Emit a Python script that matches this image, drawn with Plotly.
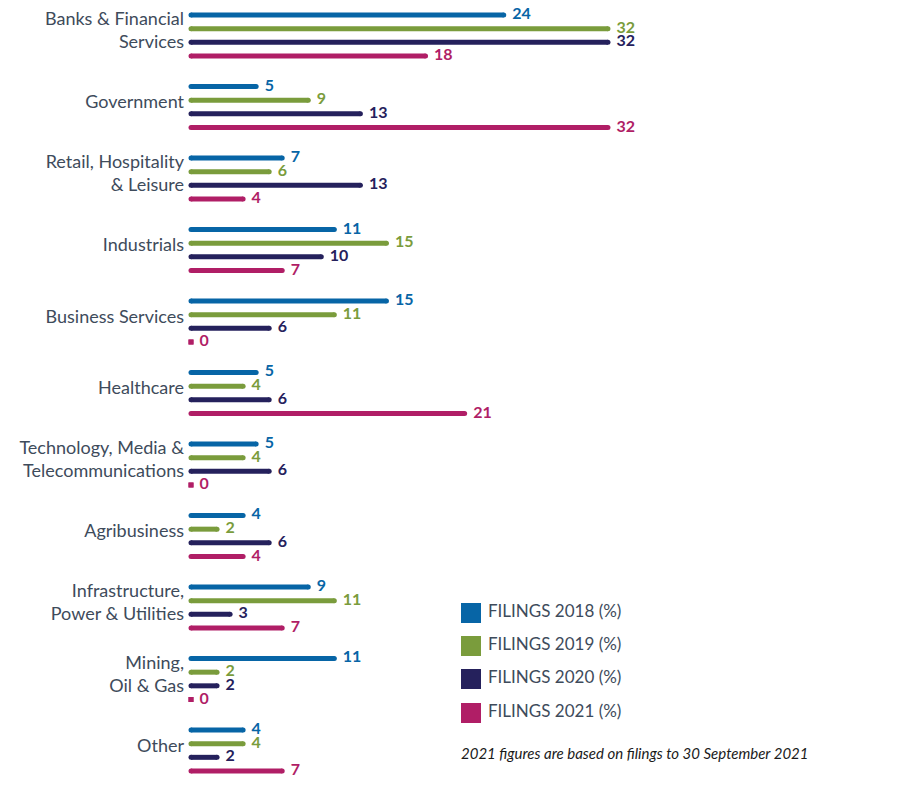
import plotly.graph_objects as go

categories = ["Banks & Financial<br>Services", "Government", "Retail, Hospitality<br>& Leisure",
              "Industrials", "Business Services", "Healthcare",
              "Technology, Media &<br>Telecommunications", "Agribusiness",
              "Infrastructure,<br>Power & Utilities", "Mining,<br>Oil & Gas", "Other"]
series_names = ["FILINGS 2018 (%)", "FILINGS 2019 (%)", "FILINGS 2020 (%)", "FILINGS 2021 (%)"]
filings_2018 = [24, 5, 7, 11, 15, 5, 5, 4, 9, 11, 4]
filings_2019 = [32, 9, 6, 15, 11, 4, 4, 2, 11, 2, 4]
filings_2020 = [32, 13, 13, 10, 6, 6, 6, 6, 3, 2, 2]
filings_2021 = [18, 32, 4, 7, 0, 21, 0, 4, 7, 0, 7]
footnote = "2021 figures are based on filings to 30 September 2021"

colors = ["#0765a6", "#7a9c3c", "#25215c", "#b01e66"]
GROUP = 5.23
FONT = "Lato"
TEXTC = "#3e4b5b"

fig = go.Figure()
all_series = [filings_2018, filings_2019, filings_2020, filings_2021]
for j, (vals, name, col) in enumerate(zip(all_series, series_names, colors)):
    xs, ys, syms = [], [], []
    for i, v in enumerate(vals):
        y = i * GROUP + j
        xs += [0, v, None]
        ys += [y, y, None]
        s = "square" if v == 0 else "circle"
        syms += [s, s, s]
    fig.add_trace(go.Scatter(x=xs, y=ys, mode="lines+markers", name=name,
                             line=dict(color=col, width=5),
                             marker=dict(color=col, size=5, symbol=syms),
                             showlegend=False, hoverinfo="skip", cliponaxis=False))
    fig.add_trace(go.Scatter(x=vals, y=[i * GROUP + j for i in range(len(vals))],
                             mode="markers+text", text=[str(v) for v in vals],
                             marker=dict(size=12, opacity=0, color=col),
                             textposition="middle right",
                             textfont=dict(family=FONT, size=16, color=col, weight="bold"),
                             showlegend=False, hoverinfo="skip", cliponaxis=False))

# manual legend on overlay axes (pixel-like coordinates)
leg_y = [613, 646, 679, 713]
fig.add_trace(go.Scatter(x=[470] * 4, y=leg_y, mode="markers", xaxis="x2", yaxis="y2",
                         marker=dict(symbol="square", size=20, color=colors),
                         showlegend=False, hoverinfo="skip", cliponaxis=False))
fig.add_trace(go.Scatter(x=[487] * 4, y=leg_y, mode="text", xaxis="x2", yaxis="y2",
                         text=series_names, textposition="middle right",
                         textfont=dict(family=FONT, size=17, color=TEXTC),
                         showlegend=False, hoverinfo="skip", cliponaxis=False))

fig.add_annotation(x=458, y=753, xref="x2", yref="y2", text="<i>" + footnote + "</i>",
                   showarrow=False, xanchor="left", yanchor="middle",
                   font=dict(family=FONT, size=15, color="#1a1a1a"))

ppx = 13.03
x_max = 700 / ppx
y_top = -5 / 13.67
y_bot = (10 * GROUP + 3) + 20 / 13.67

fig.update_layout(
    width=901, height=801,
    margin=dict(l=183, r=18, t=2, b=18, autoexpand=False),
    paper_bgcolor="white", plot_bgcolor="white",
    xaxis=dict(range=[0, x_max], visible=False, fixedrange=True, automargin=False),
    yaxis=dict(range=[y_bot, y_top], showgrid=False, zeroline=False, showline=False,
               automargin=False, ticklabeloverflow="allow",
               tickvals=[i * GROUP + 1.13 for i in range(len(categories))],
               ticktext=categories, ticks="", ticklabelstandoff=6,
               tickfont=dict(family=FONT, size=18, color=TEXTC)),
    xaxis2=dict(range=[190, 890], overlaying="x", visible=False, automargin=False),
    yaxis2=dict(range=[791, 10], overlaying="y", visible=False, automargin=False),
)

fig.write_html("out.html")
